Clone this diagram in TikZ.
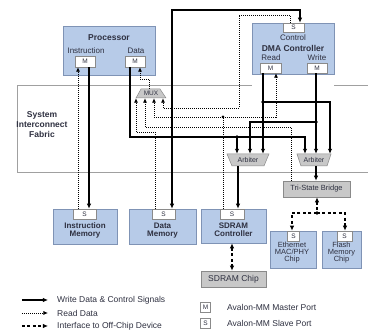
\documentclass[tikz,border=0pt]{standalone}
\usepackage{fontspec}
\setmainfont{Liberation Sans}
\usetikzlibrary{arrows.meta}
\definecolor{bfill}{HTML}{B7CBE8}
\definecolor{bdraw}{HTML}{7F93B5}
\definecolor{gfill}{HTML}{C8C8C8}
\definecolor{gdraw}{HTML}{8A8A8A}
\definecolor{txt}{HTML}{2E3040}
\definecolor{fab}{HTML}{A0A0A0}
\tikzset{
 blk/.style={draw=bdraw, fill=bfill, line width=0.6pt, inner sep=0pt},
 gbox/.style={draw=gdraw, fill=gfill, line width=0.6pt, inner sep=0pt, text=txt},
 port/.style={draw=gdraw, fill=white, line width=0.5pt, inner sep=0pt, text=txt, font=\fontsize{6.5}{7}\selectfont},
 lbl/.style={inner sep=0pt, text=txt, font=\fontsize{8}{9}\selectfont},
 ttl/.style={inner sep=0pt, text=txt, font=\bfseries\fontsize{8.5}{9}\selectfont, align=center},
 mtxt/.style={inner sep=0pt, text=txt, font=\bfseries\fontsize{8}{8.2}\selectfont, align=center},
 ctxt/.style={inner sep=0pt, text=txt, font=\fontsize{7.5}{7}\selectfont, align=center},
 trap/.style={draw=gdraw, fill=gfill, line width=0.5pt},
 wr/.style={line width=1.5pt, -{Latex[length=5pt,width=4.5pt]}},
 rd/.style={line width=0.8pt, dash pattern=on 1pt off 1pt, -{Latex[length=4.5pt,width=4pt]}},
 ext/.style={line width=1.5pt, dash pattern=on 3pt off 2.5pt},
 jdot/.style={circle, fill=black, inner sep=0pt, minimum size=3.6pt},
 sdot/.style={circle, fill=black, inner sep=0pt, minimum size=3pt},
}
\begin{document}
\begin{tikzpicture}[x=1pt,y=-1pt]
\useasboundingbox (0,0) rectangle (368,331);
% fabric
\draw[fab, line width=0.6pt] (372,85) -- (334,85) (252,85) -- (17,85) -- (17,172) -- (372,172);
\node[ttl, font=\bfseries\fontsize{8.5}{10}\selectfont] (fabT) at (42,125) {System\\Interconnect\\Fabric};

% processor
\node[blk, minimum width=92, minimum height=49] (proc) at (109,50.5) {};
\node[ttl] (procT) at (109,38) {Processor};
\node[lbl] (procI) at (86,51) {Instruction};
\node[lbl] (procD) at (136,51) {Data};
\node[port, minimum width=20, minimum height=11] (pim) at (85,61.5) {M};
\node[port, minimum width=20, minimum height=11] (pdm) at (135,61.5) {M};

% DMA
\node[blk, minimum width=82, minimum height=51] (dma) at (293,48.5) {};
\node[port, minimum width=21, minimum height=9] (dmaS) at (293.5,27.5) {S};
\node[lbl] (dmaC) at (293,38) {Control};
\node[ttl] (dmaT) at (293,48) {DMA Controller};
\node[lbl] (dmaR) at (271,57.5) {Read};
\node[lbl] (dmaW) at (317,57.5) {Write};
\node[port, minimum width=21, minimum height=10] (dRM) at (270.5,68) {M};
\node[port, minimum width=20, minimum height=10] (dWM) at (317,68) {M};

% MUX and arbiters
\draw[trap] (141,89) -- (160,89) -- (166,98) -- (136,98) -- cycle;
\node[inner sep=0pt, minimum width=30, minimum height=9, text=txt, font=\fontsize{6.5}{7}\selectfont] (mux) at (151,93.5) {MUX};
\draw[trap] (227,154) -- (269,154) -- (264,166) -- (232,166) -- cycle;
\node[inner sep=0pt, minimum width=42, minimum height=12, text=txt, font=\fontsize{7}{7}\selectfont] (arb1) at (248,160) {Arbiter};
\draw[trap] (297,154) -- (331,154) -- (327,166) -- (301,166) -- cycle;
\node[inner sep=0pt, minimum width=34, minimum height=12, text=txt, font=\fontsize{7}{7}\selectfont] (arb2) at (314,160) {Arbiter};

% bridge
\node[gbox, minimum width=67, minimum height=16, font=\fontsize{7.5}{8}\selectfont] (tsb) at (316.5,189) {Tri-State Bridge};

% memories
\node[blk, minimum width=64, minimum height=35] (imem) at (85,226.5) {};
\node[port, minimum width=23, minimum height=10] (imS) at (84.5,214) {S};
\node[mtxt] (imT) at (85,230.5) {Instruction\\Memory};

\node[blk, minimum width=67, minimum height=35] (dmem) at (162.5,226.5) {};
\node[port, minimum width=23, minimum height=10] (dmS) at (163.5,214) {S};
\node[mtxt] (dmT) at (162.5,230.5) {Data\\Memory};

\node[blk, minimum width=65, minimum height=34] (sdc) at (233.5,226) {};
\node[port, minimum width=24, minimum height=10] (sdS) at (232,214) {S};
\node[mtxt] (sdT) at (233.5,230) {SDRAM\\Controller};

\node[gbox, minimum width=65, minimum height=16, font=\fontsize{8.5}{9}\selectfont] (sdchip) at (233.5,279) {SDRAM Chip};

\node[blk, minimum width=46, minimum height=37] (eth) at (293,249.5) {};
\node[port, minimum width=12, minimum height=10] (ethS) at (293.5,236) {S};
\node[ctxt] (ethT) at (292,253) {Ethernet\\MAC/PHY\\Chip};

\node[blk, minimum width=39, minimum height=37] (fl) at (341.5,249.5) {};
\node[port, minimum width=15, minimum height=10] (flS) at (344.5,236) {S};
\node[ctxt] (flT) at (341.5,253) {Flash\\Memory\\Chip};

% junctions
\node[jdot] (j1) at (172,137) {};
\node[jdot] (j2) at (237,137) {};
\node[jdot] (j3) at (263,102) {};
\node[jdot] (j4) at (316,122) {};
\node[sdot] (j5) at (223,117) {};
\node[jdot] (j6) at (317,213) {};

% write data & control (thick)
\draw[wr] (pim.south -| 89,0) -- (imS.north -| 89,0);
\draw[wr] (pdm.south -| 130,0) |- (305,137) -- (arb2.north -| 305,0);
\draw[wr] (j2.center) -- (arb1.north -| 237,0);
\draw[wr] (j1.center) |- (300,10) -- (dmaS.north -| 300,0);
\draw[wr] (j1.center) -- (dmS.north -| 172,0);
\draw[wr] (dRM.south -| 263,0) -- (arb1.north -| 263,0);
\draw[wr] (j3.center) -| (arb2.north -| 330,0);
\draw[wr] (dWM.south -| 316,0) -- (arb2.north -| 316,0);
\draw[wr] (j4.center) -| (arb1.north -| 250,0);
\draw[wr] (arb1.south -| 238,0) -- (sdS.north -| 238,0);
\draw[wr] (arb2.south -| 316,0) -- (tsb.north -| 316,0);

% read data (dotted)
\draw[rd] (imS.north -| 78,0) -- (pim.south -| 78,0);
\draw[rd] (mux.north -| 149,0) |- (140,79) -- (pdm.south -| 140,0);
\draw[rd] (dmS.north -| 155,0) |- (136,132) -- (mux.south -| 136,0);
\draw[rd] (tsb.north -| 291,0) |- (145,127) -- (mux.south -| 145,0);
\draw[rd] (sdS.north -| 223,0) |- (154,117) -- (mux.south -| 154,0);
\draw[rd] (j5.center) -| (dRM.south -| 276,0);
\draw[rd] (dmaS.north -| 290,0) |- (239,15) |- (163,108) -- (mux.south -| 163,0);

% off-chip (dashed)
\draw[ext, {Latex[length=5pt,width=4.5pt]}-{Latex[length=5pt,width=4.5pt]}] (sdc.south -| 232,0) -- (sdchip.north -| 232,0);
\draw[ext, {Latex[length=5pt,width=4.5pt]}-] (tsb.south -| 317,0) -- (j6.center);
\draw[ext, -{Latex[length=5pt,width=4.5pt]}] (j6.center) -| (ethS.north -| 292,0);
\draw[ext, -{Latex[length=5pt,width=4.5pt]}] (j6.center) -| (flS.north -| 345,0);

% legend
\node[lbl, anchor=west, font=\fontsize{8.5}{9}\selectfont] (lg1) at (57,300) {Write Data \& Control Signals};
\node[lbl, anchor=west, font=\fontsize{8.5}{9}\selectfont] (lg2) at (57,313) {Read Data};
\node[lbl, anchor=west, font=\fontsize{8.5}{9}\selectfont] (lg3) at (57,326) {Interface to Off-Chip Device};
\coordinate (la1) at (22,300);
\coordinate (la2) at (22,313);
\coordinate (la3) at (22,326);
\draw[wr] (la1) -- ([xshift=-9pt]lg1.west);
\draw[rd] (la2) -- ([xshift=-9pt]lg2.west);
\draw[ext, -{Latex[length=5pt,width=4.5pt]}] (la3) -- ([xshift=-9pt]lg3.west);

\node[port, minimum width=10, minimum height=10] (lgM) at (205.5,307) {M};
\node[port, minimum width=10, minimum height=10] (lgS) at (205.5,323) {S};
\node[lbl, anchor=west, font=\fontsize{8.5}{9}\selectfont] (lgMt) at (227,307) {Avalon-MM Master Port};
\node[lbl, anchor=west, font=\fontsize{8.5}{9}\selectfont] (lgSt) at (227,323) {Avalon-MM Slave Port};
\end{tikzpicture}
\end{document}
